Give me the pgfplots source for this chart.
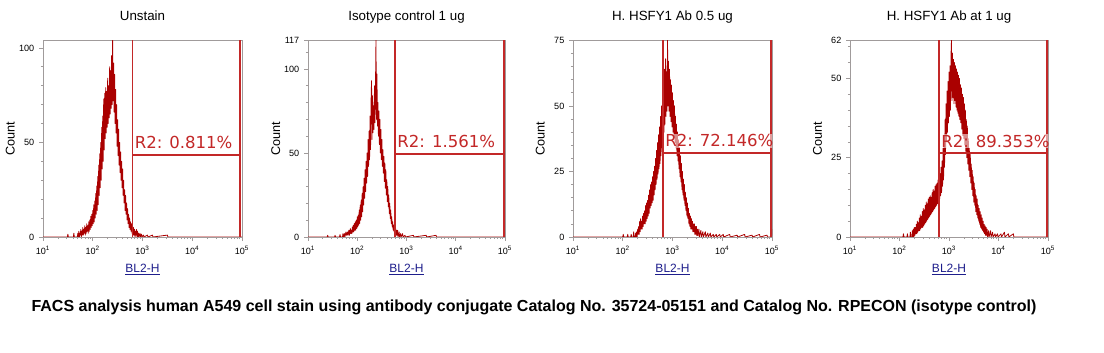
\documentclass[border=0pt]{standalone}
\usepackage{pgfplots}
\pgfplotsset{compat=1.18}
\usepackage{fontspec}
\setmainfont{Liberation Sans}
\newfontfamily\gatefont{DejaVu Sans}
\definecolor{histc}{RGB}{170,0,0}
\definecolor{gatec}{RGB}{195,40,40}
\definecolor{axisc}{RGB}{160,155,155}
\definecolor{lblue}{RGB}{30,30,140}
\pgfplotsset{facs/.style={
  scale only axis, height=147.5pt,
  xmin=1, xmax=5, ymin=0,
  axis line style={axisc, line width=0.6pt},
  xtick={1,2,3,4,5},
  xticklabels={10\textsuperscript{1},10\textsuperscript{2},10\textsuperscript{3},10\textsuperscript{4},10\textsuperscript{5}},
  minor xtick={1.301,1.477,1.602,1.699,1.778,1.845,1.903,1.954,2.301,2.477,2.602,2.699,2.778,2.845,2.903,2.954,3.301,3.477,3.602,3.699,3.778,3.845,3.903,3.954,4.301,4.477,4.602,4.699,4.778,4.845,4.903,4.954},
  xtick pos=bottom, ytick pos=left,
  tick align=outside,
  major tick length=3pt, minor tick length=1.6pt,
  every tick/.style={axisc, line width=0.5pt},
  ticklabel style={font=\fontsize{6.8}{7}\selectfont},
  /pgf/number format/assume math mode=true,
  xlabel={\underline{BL2-H}},
  xlabel style={font=\fontsize{9}{10}\selectfont, text=lblue, at={(axis description cs:0.5,-0.178)}, anchor=base},
  ylabel={Count},
  ylabel style={font=\fontsize{9.5}{10}\selectfont, at={(axis description cs:-0.142,0.5)}, anchor=base},
  title style={font=\fontsize{10}{12}\selectfont, at={(axis description cs:0.5,1.061)}, anchor=base},
  anchor=south west,
}}
\begin{document}
\begin{tikzpicture}
\useasboundingbox (0,0) rectangle (828pt,264.75pt);
\fill[white] (0,0) rectangle (828pt,264.75pt);

% Panel 1
\begin{axis}[facs, at={(32.25pt,87pt)}, width=149.25pt, ymax=104,
  ytick={0,50,100}, minor ytick={10,20,30,40,60,70,80,90}, title={Unstain}]
\addplot[histc, line width=0.6pt, line join=round] coordinates {
(1.00,0)(1.49,0)(1.50,1.5)(1.51,0)(1.61,0)(1.62,2)(1.63,0)(1.69,0)(1.70,2)(1.71,0)(1.72,3)(1.73,0)(1.74,2)(1.75,1)(1.76,4)(1.77,0)(1.78,3)(1.79,1)(1.80,5)(1.81,1)(1.82,4)(1.83,2)(1.84,6)(1.85,1)(1.86,5)(1.87,2)(1.88,7)(1.89,3)(1.90,6)(1.91,2)(1.92,8)(1.93,3)(1.94,9)(1.95,4)(1.96,11)(1.97,5)(1.98,12)(1.99,6)(2.00,14)(2.01,7)(2.02,17)(2.03,8)(2.04,19)(2.05,10)(2.06,23)(2.07,12)(2.08,27)(2.09,14)(2.10,32)(2.11,17)(2.12,38)(2.13,22)(2.14,44)(2.15,26)(2.16,50)(2.17,30)(2.18,58)(2.19,36)(2.20,64)(2.21,40)(2.22,73)(2.23,46)(2.24,76)(2.25,52)(2.26,79)(2.27,55)(2.28,77)(2.29,58)(2.30,84)(2.31,60)(2.32,80)(2.33,63)(2.34,90)(2.35,65)(2.36,88)(2.37,68)(2.38,96)(2.39,70)(2.40,104)(2.41,72)(2.42,92)(2.43,66)(2.44,86)(2.45,60)(2.46,78)(2.47,55)(2.48,70)(2.49,48)(2.50,62)(2.51,43)(2.52,57)(2.53,38)(2.54,50)(2.55,34)(2.56,45)(2.57,30)(2.58,40)(2.59,26)(2.60,36)(2.61,22)(2.62,30)(2.63,18)(2.64,25)(2.65,14)(2.66,22)(2.67,12)(2.68,18)(2.69,9)(2.70,15)(2.71,7)(2.72,12)(2.73,5)(2.74,10)(2.75,4)(2.76,8)(2.77,3)(2.78,7)(2.79,2)(2.80,6)(2.81,1)(2.82,5)(2.83,1)(2.84,4)(2.85,0)(2.86,3)(2.87,1)(2.88,4)(2.89,0)(2.90,3)(2.91,0)(2.92,2)(2.93,0)(2.95,2)(2.96,0)(2.98,1.5)(2.99,0)(3.02,1)(3.03,0)(3.10,1)(3.11,0)(3.20,1)(3.21,0)(3.50,1)(3.51,0)(5.00,0)};
\addplot[gatec, line width=1.2pt] coordinates {(2.80,0)(2.80,104)};
\addplot[gatec, line width=1.2pt] coordinates {(4.96,0)(4.96,104)};
\addplot[gatec, line width=1.2pt] coordinates {(2.80,43.4)(4.96,43.4)};
\node[anchor=base west, font=\gatefont\fontsize{12.4}{14}\selectfont, text=gatec, inner sep=0.5pt, fill=white, fill opacity=0.55, text opacity=1, xshift=1pt, yshift=4.5pt] at (axis cs:2.80,43.4) {R2: 0.811\%};
\end{axis}

% Panel 2
\begin{axis}[facs, at={(231pt,87pt)}, width=147.75pt, ymax=117,
  ytick={0,50,100,117}, minor ytick={10,20,30,40,60,70,80,90,110}, title={Isotype control 1 ug}]
\addplot[histc, line width=0.6pt, line join=round] coordinates {
(1.00,0)(1.39,0)(1.40,1)(1.41,0)(1.54,0)(1.55,1)(1.56,0)(1.64,0)(1.65,1.5)(1.66,0)(1.70,0)(1.71,2)(1.72,0)(1.74,2)(1.75,0)(1.77,3)(1.78,1)(1.80,3)(1.81,1)(1.83,4)(1.84,1)(1.86,5)(1.87,2)(1.88,4)(1.89,2)(1.90,6)(1.91,3)(1.92,7)(1.93,3)(1.94,8)(1.95,4)(1.96,9)(1.97,4)(1.98,10)(1.99,5)(2.00,12)(2.01,6)(2.02,13)(2.03,7)(2.04,16)(2.05,8)(2.06,19)(2.07,10)(2.08,22)(2.09,12)(2.10,26)(2.11,15)(2.12,30)(2.13,19)(2.14,35)(2.15,23)(2.16,40)(2.17,27)(2.18,45)(2.19,32)(2.20,50)(2.21,36)(2.22,58)(2.23,42)(2.24,63)(2.25,46)(2.26,72)(2.27,52)(2.28,80)(2.29,93)(2.30,58)(2.31,84)(2.32,62)(2.33,78)(2.34,64)(2.35,90)(2.36,68)(2.37,88)(2.38,117)(2.39,70)(2.40,97)(2.41,66)(2.42,80)(2.43,60)(2.44,75)(2.45,55)(2.46,70)(2.47,50)(2.48,64)(2.49,46)(2.50,58)(2.51,42)(2.52,52)(2.53,38)(2.54,48)(2.55,33)(2.56,44)(2.57,29)(2.58,40)(2.59,25)(2.60,34)(2.61,21)(2.62,30)(2.63,18)(2.64,25)(2.65,14)(2.66,20)(2.67,11)(2.68,16)(2.69,8)(2.70,12)(2.71,6)(2.72,9)(2.73,4)(2.74,7)(2.75,3)(2.76,6)(2.77,2)(2.78,5)(2.79,1)(2.80,4)(2.81,1)(2.82,4)(2.83,0)(2.85,3)(2.86,0)(2.88,2)(2.89,0)(2.92,2)(2.93,0)(2.97,1)(2.98,0)(3.14,1)(3.15,0)(3.40,1)(3.41,0)(3.60,1)(3.61,0)(5.00,0)};
\addplot[gatec, line width=1.2pt] coordinates {(2.77,0)(2.77,117)};
\addplot[gatec, line width=1.2pt] coordinates {(4.98,0)(4.98,117)};
\addplot[gatec, line width=1.2pt] coordinates {(2.77,49.5)(4.98,49.5)};
\node[anchor=base west, font=\gatefont\fontsize{12.4}{14}\selectfont, text=gatec, inner sep=0.5pt, fill=white, fill opacity=0.55, text opacity=1, xshift=1pt, yshift=4.5pt] at (axis cs:2.77,49.5) {R2: 1.561\%};
\end{axis}

% Panel 3
\begin{axis}[facs, at={(429.75pt,87pt)}, width=149.25pt, ymax=75,
  ytick={0,25,50,75}, minor ytick={5,10,15,20,30,35,40,45,55,60,65,70}, title={H. HSFY1 Ab 0.5 ug}]
\addplot[histc, line width=0.6pt, line join=round] coordinates {
(1.00,0)(2.00,0)(2.01,1)(2.02,0)(2.09,0)(2.10,1)(2.11,0)(2.16,0)(2.17,1)(2.18,0)(2.21,0)(2.22,2)(2.23,0)(2.25,0)(2.26,1.5)(2.27,0)(2.28,2)(2.29,0)(2.30,3)(2.31,1)(2.32,4)(2.33,1)(2.34,6)(2.35,2)(2.36,7)(2.37,3)(2.38,6)(2.39,3)(2.40,8)(2.41,4)(2.42,9)(2.43,5)(2.44,10)(2.45,5)(2.46,12)(2.47,6)(2.48,13)(2.49,7)(2.50,14)(2.51,8)(2.52,16)(2.53,9)(2.54,18)(2.55,11)(2.56,20)(2.57,12)(2.58,21)(2.59,13)(2.60,23)(2.61,14)(2.62,25)(2.63,16)(2.64,27)(2.65,18)(2.66,30)(2.67,20)(2.68,33)(2.69,22)(2.70,36)(2.71,24)(2.72,39)(2.73,26)(2.74,42)(2.75,28)(2.76,46)(2.77,31)(2.78,50)(2.79,34)(2.80,54)(2.81,37)(2.82,58)(2.83,40)(2.84,64)(2.85,43)(2.86,68)(2.87,46)(2.88,63)(2.89,48)(2.90,75)(2.91,50)(2.92,67)(2.93,48)(2.94,64)(2.95,46)(2.96,60)(2.97,44)(2.98,58)(2.99,42)(3.00,55)(3.01,40)(3.02,52)(3.03,38)(3.04,50)(3.05,36)(3.06,46)(3.07,34)(3.08,43)(3.09,31)(3.10,40)(3.11,29)(3.12,37)(3.13,26)(3.14,34)(3.15,23)(3.16,31)(3.17,21)(3.18,28)(3.19,18)(3.20,25)(3.21,16)(3.22,22)(3.23,14)(3.24,20)(3.25,12)(3.26,17)(3.27,10)(3.28,15)(3.29,8)(3.30,13)(3.31,7)(3.32,11)(3.33,5)(3.34,9)(3.35,4)(3.36,8)(3.37,3)(3.38,7)(3.39,3)(3.40,6)(3.41,2)(3.42,5)(3.43,2)(3.44,5)(3.45,1)(3.46,4)(3.47,1)(3.48,4)(3.49,0.5)(3.50,3)(3.51,0.5)(3.53,3)(3.54,0)(3.57,2.5)(3.58,0)(3.61,2)(3.62,0)(3.66,2)(3.67,0)(3.71,1.5)(3.72,0)(3.76,1.5)(3.77,0)(3.82,1)(3.83,0)(3.88,1)(3.89,0)(3.95,1)(3.96,0)(4.02,1)(4.03,0)(4.15,1)(4.16,0)(4.30,0.7)(4.31,0)(4.45,1)(4.46,0)(4.60,0.7)(4.61,0)(4.75,1)(4.76,0)(4.90,0.7)(4.91,0)(4.99,0)(5.00,3)};
\addplot[gatec, line width=1.2pt] coordinates {(2.81,0)(2.81,75)};
\addplot[gatec, line width=1.2pt] coordinates {(4.98,0)(4.98,75)};
\addplot[gatec, line width=1.2pt] coordinates {(2.81,32.1)(4.98,32.1)};
\node[anchor=base west, font=\gatefont\fontsize{12.4}{14}\selectfont, text=gatec, inner sep=0.5pt, fill=white, fill opacity=0.55, text opacity=1, xshift=1pt, yshift=4.5pt] at (axis cs:2.81,32.1) {R2: 72.146\%};
\end{axis}

% Panel 4
\begin{axis}[facs, at={(637.5pt,87pt)}, width=148.5pt, ymax=62,
  ytick={0,25,50,62}, minor ytick={5,10,15,20,30,35,40,45,55,60}, title={H. HSFY1 Ab at 1 ug}]
\addplot[histc, line width=0.6pt, line join=round] coordinates {
(1.00,0)(2.07,0)(2.08,1)(2.09,0)(2.15,0)(2.16,1)(2.17,0)(2.21,0)(2.22,1.5)(2.23,0)(2.25,0)(2.26,2)(2.27,0)(2.28,2.5)(2.29,0)(2.30,3)(2.31,0.5)(2.32,3)(2.33,1)(2.34,4)(2.35,1)(2.36,5)(2.37,1.5)(2.38,4.5)(2.39,2)(2.40,6)(2.41,2)(2.42,7)(2.43,2.5)(2.44,6.5)(2.45,3)(2.46,8)(2.47,3)(2.48,9)(2.49,3.5)(2.50,8.5)(2.51,4)(2.52,10)(2.53,4.5)(2.54,11)(2.55,5)(2.56,10.5)(2.57,5.5)(2.58,12)(2.59,6)(2.60,12.5)(2.61,6.5)(2.62,13)(2.63,7)(2.64,12.5)(2.65,7.5)(2.66,14)(2.67,8)(2.68,15)(2.69,8.5)(2.70,14.5)(2.71,9)(2.72,16)(2.73,9.5)(2.74,16.5)(2.75,10)(2.76,17)(2.77,10.5)(2.78,18)(2.79,11)(2.80,19)(2.81,12)(2.82,20)(2.83,13)(2.84,22)(2.85,14)(2.86,24)(2.87,16)(2.88,28)(2.89,18)(2.90,32)(2.91,22)(2.92,37)(2.93,26)(2.94,42)(2.95,30)(2.96,46)(2.97,33)(2.98,49)(2.99,36)(3.00,52)(3.01,38)(3.02,54)(3.03,40)(3.04,57)(3.05,62)(3.06,43)(3.07,58)(3.08,44)(3.09,56)(3.10,42)(3.11,55)(3.12,43)(3.13,54)(3.14,41)(3.15,53)(3.16,40)(3.17,52)(3.18,39)(3.19,51)(3.20,38)(3.21,50)(3.22,37)(3.23,48)(3.24,36)(3.25,47)(3.26,34)(3.27,45)(3.28,32)(3.29,44)(3.30,31)(3.31,42)(3.32,29)(3.33,40)(3.34,27)(3.35,37)(3.36,25)(3.37,35)(3.38,23)(3.39,31)(3.40,21)(3.41,28)(3.42,19)(3.43,26)(3.44,17)(3.45,23)(3.46,15)(3.47,21)(3.48,13)(3.49,19)(3.50,11)(3.51,17)(3.52,10)(3.53,15)(3.54,8)(3.55,13)(3.56,7)(3.57,12)(3.58,6)(3.59,10)(3.60,5)(3.61,9)(3.62,4)(3.63,8)(3.64,3)(3.65,7)(3.66,2.5)(3.67,6)(3.68,2)(3.69,5)(3.70,1.5)(3.71,4)(3.72,1)(3.73,3.5)(3.74,0.5)(3.75,3)(3.76,0.5)(3.77,2.5)(3.78,0)(3.80,2)(3.81,0)(3.84,2)(3.85,0)(3.88,1.5)(3.89,0)(3.93,1)(3.94,0)(3.98,1)(3.99,0)(4.05,1)(4.06,0)(4.12,1.5)(4.13,0)(4.20,1)(4.21,0)(4.30,1)(4.31,0)(5.00,0)};
\addplot[gatec, line width=1.2pt] coordinates {(2.80,0)(2.80,62)};
\addplot[gatec, line width=1.2pt] coordinates {(4.98,0)(4.98,62)};
\addplot[gatec, line width=1.2pt] coordinates {(2.80,26.4)(4.98,26.4)};
\node[anchor=base west, font=\gatefont\fontsize{12.4}{14}\selectfont, text=gatec, inner sep=0.5pt, fill=white, fill opacity=0.55, text opacity=1, xshift=1pt, yshift=4.5pt] at (axis cs:2.80,26.4) {R2: 89.353\%};
\end{axis}

\node[anchor=base, font=\fontsize{12}{14}\selectfont\bfseries] at (400.5pt,31pt) {FACS analysis human A549 cell stain using antibody conjugate Catalog No. 35724-05151 and Catalog No. RPECON (isotype control)};
\end{tikzpicture}
\end{document}
